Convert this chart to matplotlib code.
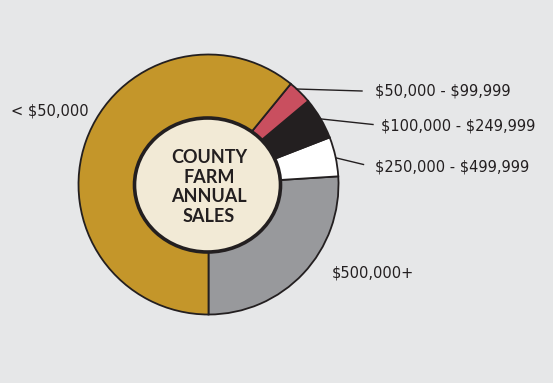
import matplotlib.pyplot as plt
from matplotlib.patches import Ellipse

labels = ['$500,000+', '$250,000 - $499,999', '$100,000 - $249,999', '$50,000 - $99,999', '< $50,000']
shares = [26.0, 4.9, 5.2, 3.0, 60.9]
colors = ['#98999c', '#ffffff', '#231f20', '#c94f5f', '#c4962a']
center_text = 'COUNTY\nFARM\nANNUAL\nSALES'

plt.rcParams['text.parse_math'] = False

W, H = 553, 383
fig = plt.figure(figsize=(W / 100, H / 100), dpi=100)
fig.patch.set_facecolor('#e6e7e8')
ax = fig.add_axes([0, 0, 1, 1])

cx, cy = 208.5, H - 184.5
ax.pie(shares, colors=colors, startangle=-90, counterclock=True,
       center=(cx, cy), radius=130, frame=True,
       wedgeprops=dict(edgecolor='#231f20', linewidth=1.3))
ax.set_xlim(0, W)
ax.set_ylim(0, H)
ax.set_aspect('equal')
ax.axis('off')

ax.add_patch(Ellipse((207.5, H - 185), 146, 134, facecolor='#f2ead6',
                     edgecolor='#231f20', linewidth=2.6, zorder=5))
ax.text(209, H - 187, center_text, ha='center', va='center', fontsize=13,
        family='Lato', weight='bold', color='#231f20', linespacing=1.2, zorder=6)

# leader lines and labels (pixel coords, y measured from top)
leaders = [((296.5, 89), (362, 91)), ((321.5, 119), (373, 124.5)), ((336.5, 158), (363.5, 164.5))]
for (x0, y0), (x1, y1) in leaders:
    ax.plot([x0, x1], [H - y0, H - y1], color='#231f20', lw=1.0)

label_pos = {
    labels[3]: (375, 91),
    labels[2]: (381, 126),
    labels[1]: (375, 167.5),
    labels[4]: (11, 111.5),
    labels[0]: (331.5, 273),
}
for name, (x, y) in label_pos.items():
    ax.text(x, H - y, name, ha='left', va='center', fontsize=10.5,
            family='DejaVu Sans', color='#231f20', parse_math=False)

fig.savefig('out.png', dpi=100, facecolor=fig.get_facecolor())
